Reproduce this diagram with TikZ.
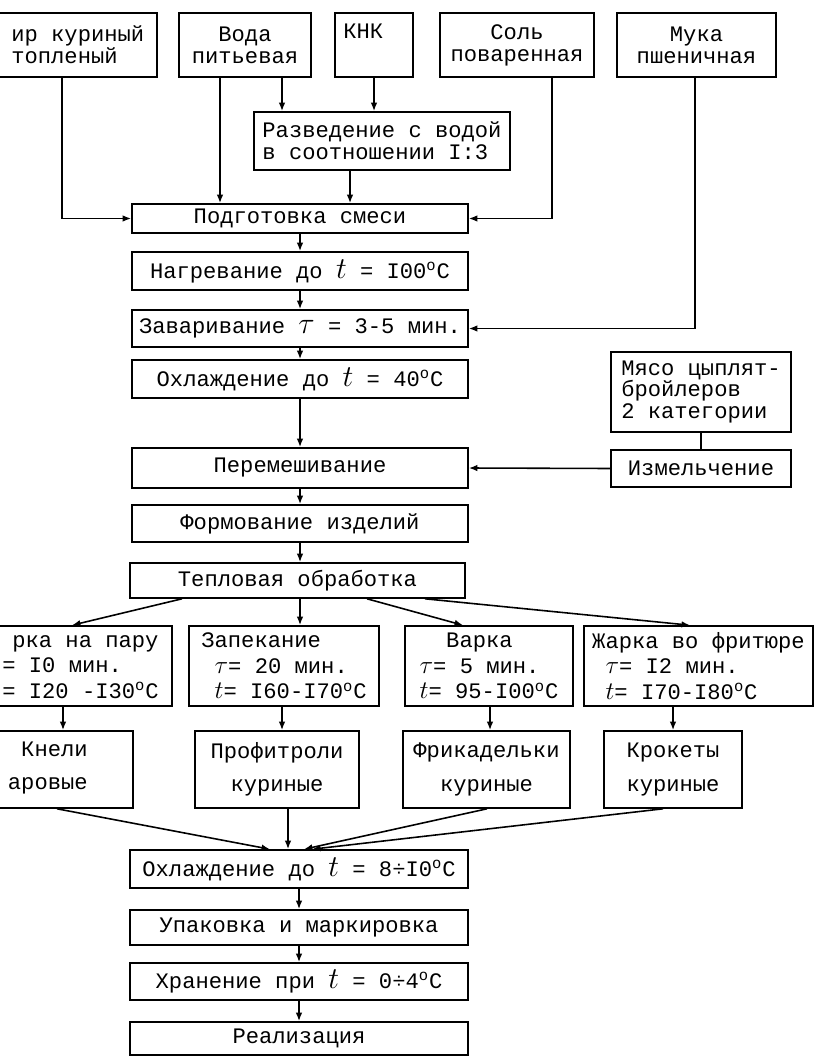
\documentclass[tikz,border=0pt]{standalone}
\usepackage{fontspec}
\setmainfont{Liberation Mono}
\usetikzlibrary{arrows.meta, positioning}

\newlength\px
\setlength\px{0.02cm}
\newcommand{\tbig}{{\fontsize{18}{12}\selectfont$t$}}
\newcommand{\taubig}{{\fontsize{18}{12}\selectfont$\tau$}}
\newcommand{\tsm}{{\fontsize{14}{12}\selectfont$t$}}
\newcommand{\tausm}{{\fontsize{14}{12}\selectfont$\tau$}}
\newcommand{\degc}{\textsuperscript{o}C}

\begin{document}
\begin{tikzpicture}[
  x=0.02cm, y=-0.02cm,
  font=\fontsize{12.6}{12.5}\selectfont,
  box/.style={rectangle, draw, line width=0.9pt, align=center, inner sep=2pt},
  sz/.style 2 args={minimum width=#1*\px, minimum height=#2*\px},
  txt/.style={inner sep=0pt, align=left},
  mode/.style={font=\fontsize{12.6}{14.5}\selectfont},
  prod/.style={font=\fontsize{12.6}{19}\selectfont},
  fwd/.style={-{Latex[length=1.7mm, width=1.3mm]}, line width=0.9pt},
  ln/.style={line width=0.9pt}
]
\clip (0,0) rectangle (816,1064);

% Raw materials
\node[box, sz={187}{64}] (fat)   at (63.5,45)  {};
\node[txt, anchor=west]  (fattxt) at (11,45)   {ир куриный\\топленый};
\node[box, sz={132}{64}] (water) at (245,45)   {Вода\\питьевая};
\node[box, sz={78}{64}]  (knk)   at (374,45)   {};
\node[txt, anchor=north west] (knktxt) at (343,24) {КНК};
\node[box, sz={154}{64}] (salt)  at (517,45)   {Соль\\поваренная};
\node[box, sz={159}{64}] (flour) at (696.5,45) {Мука\\пшеничная};
\node[box, sz={256}{58}, align=left] (dilute) at (382,141) {Разведение с водой\\в соотношении I:3};

% Main line
\node[box, sz={336}{29}] (mix)   at (300,218.5) {Подготовка смеси};
\node[box, sz={336}{38}] (heat)  at (300,271)   {Нагревание до \tbig{} = I00\degc};
\node[box, sz={336}{37}] (brew)  at (300,328.5) {Заваривание \taubig{} = 3-5 мин.};
\node[box, sz={336}{38}] (cool)  at (300,379)   {Охлаждение до \tbig{} = 40\degc};
\node[box, sz={336}{40}] (stir)  at (300,468)   {Перемешивание};
\node[box, sz={336}{37}] (form)  at (300,523.5) {Формование изделий};
\node[box, sz={335}{35}] (heattr) at (297.5,580.5) {Тепловая обработка};

% Meat
\node[box, sz={180}{80}, align=left] (meat)  at (701,392)   {Мясо цыплят-\\бройлеров\\2 категории};
\node[box, sz={180}{37}]             (mince) at (701,468.5) {Измельчение};

% Heat treatment modes
\node[box, sz={202}{80}] (steam) at (71,666) {};
\node[txt, mode, anchor=west] (steamtxt) at (2,667) {\hspace*{10\px}рка на пару\\= I0 мин.\\= I20 -I30\degc};
\node[box, mode, sz={190}{80}, align=left] (bake) at (284,666) {Запекание\\\ \tausm= 20 мин.\\\ \tsm= I60-I70\degc};
\node[box, mode, sz={168}{80}, align=left] (boil) at (489,666) {\ \ Варка\\\tausm= 5 мин.\\\tsm= 95-I00\degc};
\node[box, mode, sz={229}{80}, align=left] (fry)  at (698.5,666) {Жарка во фритюре\\\ \tausm = I2 мин.\\\ \tsm = I70-I80\degc};

% Products
\node[box, sz={163}{77}] (kneli) at (51.5,769.5) {};
\node[txt, prod, anchor=east, align=right] (knelitxt) at (88,768) {Кнели\\аровые};
\node[box, prod, sz={164}{77}] (profit) at (277,769.5)   {Профитроли\\куриные};
\node[box, prod, sz={167}{77}] (frik)   at (486.5,769.5) {Фрикадельки\\куриные};
\node[box, prod, sz={138}{77}, align=left] (krok) at (673,769.5) {Крокеты\\куриные};

% Final steps
\node[box, sz={338}{38}] (cool2) at (299,869)    {Охлаждение до \tbig{} = 8÷I0\degc};
\node[box, sz={338}{35}] (pack)  at (299,927.5)  {Упаковка и маркировка};
\node[box, sz={338}{37}] (store) at (299,981.5)  {Хранение при \tbig{} = 0÷4\degc};
\node[box, sz={338}{33}] (sale)  at (299,1038.5) {Реализация};

% Inputs
\draw[fwd] (282,0 |- water.south) -- (282,0 |- dilute.north);
\draw[fwd] (knk.south) -- (knk.south |- dilute.north);
\draw[fwd] (220,0 |- water.south) -- (220,0 |- mix.north);
\draw[fwd] (350,0 |- dilute.south) -- (350,0 |- mix.north);
\draw[fwd] (62,0 |- fat.south) |- (mix.west);
\draw[fwd] (552,0 |- salt.south) |- (mix.east);
\draw[fwd] (695,0 |- flour.south) |- (brew.east);

% Main flow
\draw[fwd] (mix) -- (heat);
\draw[fwd] (heat) -- (brew);
\draw[fwd] (brew) -- (cool);
\draw[fwd] (cool) -- (stir);
\draw[fwd] (stir) -- (form);
\draw[fwd] (form.south) -- (form.south |- heattr.north);
\draw[ln]  (meat) -- (mince);
\draw[fwd] (mince.west) -- (stir.east);

% Branches
\draw[fwd] (182,0 |- heattr.south) -- (72,0 |- steam.north);
\draw[fwd] (300,0 |- heattr.south) -- (300,0 |- bake.north);
\draw[fwd] (367,0 |- heattr.south) -- (463,0 |- boil.north);
\draw[fwd] (425,0 |- heattr.south) -- (690,0 |- fry.north);
\draw[fwd] (63,0 |- steam.south) -- (63,0 |- kneli.north);
\draw[fwd] (282,0 |- bake.south) -- (282,0 |- profit.north);
\draw[fwd] (490,0 |- boil.south) -- (490,0 |- frik.north);
\draw[fwd] (673,0 |- fry.south) -- (673,0 |- krok.north);

% Collecting
\draw[fwd] (57,0 |- kneli.south) -- (270,0 |- cool2.north);
\draw[fwd] (288,0 |- profit.south) -- (288,0 |- cool2.north);
\draw[fwd] (487,0 |- frik.south) -- (304,0 |- cool2.north);
\draw[fwd] (663,0 |- krok.south) -- (312,0 |- cool2.north);
\draw[fwd] (cool2) -- (pack);
\draw[fwd] (pack) -- (store);
\draw[fwd] (store) -- (sale);

\end{tikzpicture}
\end{document}
